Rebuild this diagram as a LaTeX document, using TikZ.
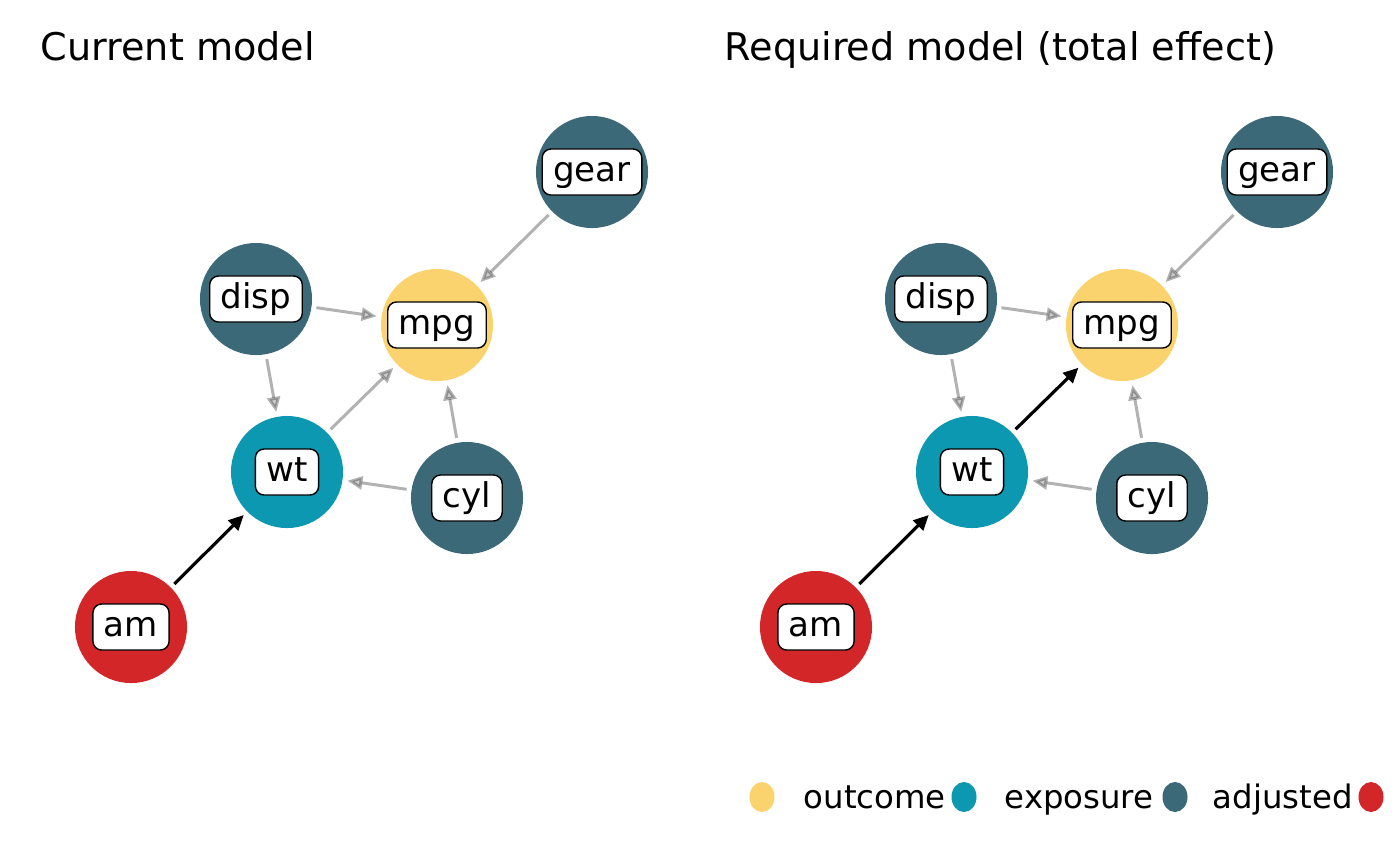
\documentclass[tikz,border=0pt]{standalone}
\usepackage{fontspec}
\setmainfont{DejaVu Sans}
\usetikzlibrary{arrows.meta,shapes.geometric}

\definecolor{outcomecol}{HTML}{FAD36E}
\definecolor{exposurecol}{HTML}{0B98B0}
\definecolor{adjustedcol}{HTML}{3B6977}
\definecolor{amcol}{HTML}{D32628}

\tikzset{
    var/.style={circle, minimum size=1.12cm, inner sep=0pt, outer sep=0pt},
    outcome/.style={var, fill=outcomecol},
    exposure/.style={var, fill=exposurecol},
    adjusted/.style={var, fill=adjustedcol},
    amnode/.style={var, fill=amcol},
    lbl/.style={draw=black, fill=white, line width=0.4pt, rounded corners=2.5pt,
        inner xsep=0.11cm, inner ysep=0.055cm, font=\fontsize{9.7pt}{11pt}\selectfont,
        text height=0.27cm, text depth=0.08cm},
    edgegray/.style={draw=black, draw opacity=0.3, line width=0.85pt,
        -{Triangle[length=0.15cm, width=0.13cm, fill=black!20]},
        shorten <=0.05cm, shorten >=0.05cm},
    edgeblack/.style={draw=black, line width=0.9pt,
        -{Triangle[length=0.15cm, width=0.14cm]},
        shorten <=0.05cm, shorten >=0.05cm},
    title/.style={anchor=base west, inner sep=0pt, font=\fontsize{10.85pt}{13pt}\selectfont},
    legtext/.style={anchor=base west, inner sep=0pt, font=\fontsize{9.2pt}{11pt}\selectfont},
    legdot/.style={ellipse, minimum width=0.25cm, minimum height=0.3cm, inner sep=0pt}
}

\begin{document}
\begin{tikzpicture}[x=0.01cm, y=-0.01cm]
    \useasboundingbox (0, 0) rectangle (1400, 866);

    % left panel
    \node[title] (Ltitle) at (40, 60) {Current model};

    \node[adjusted] (Lgear) at (592, 172) {};
    \node[adjusted] (Ldisp) at (256, 299) {};
    \node[outcome] (Lmpg) at (437, 325) {};
    \node[exposure] (Lwt) at (287, 472) {};
    \node[adjusted] (Lcyl) at (467, 498) {};
    \node[amnode] (Lam) at (131, 627) {};

    \draw[edgegray] (Lgear) -- (Lmpg);
    \draw[edgegray] (Ldisp) -- (Lmpg);
    \draw[edgegray] (Ldisp) -- (Lwt);
    \draw[edgegray] (Lwt) -- (Lmpg);
    \draw[edgegray] (Lcyl) -- (Lmpg);
    \draw[edgegray] (Lcyl) -- (Lwt);
    \draw[edgeblack] (Lam) -- (Lwt);

    \node[lbl] (Lgeart) at (Lgear) {gear};
    \node[lbl] (Ldispt) at (Ldisp) {disp};
    \node[lbl] (Lmpgt) at (Lmpg) {mpg};
    \node[lbl] (Lwtt) at (Lwt) {wt};
    \node[lbl] (Lcylt) at (Lcyl) {cyl};
    \node[lbl] (Lamt) at (Lam) {am};

    % right panel
    \node[title] (Rtitle) at (724, 60) {Required model (total effect)};

    \node[adjusted] (Rgear) at (1277, 172) {};
    \node[adjusted] (Rdisp) at (941, 299) {};
    \node[outcome] (Rmpg) at (1122, 325) {};
    \node[exposure] (Rwt) at (972, 472) {};
    \node[adjusted] (Rcyl) at (1152, 498) {};
    \node[amnode] (Ram) at (816, 627) {};

    \draw[edgegray] (Rgear) -- (Rmpg);
    \draw[edgegray] (Rdisp) -- (Rmpg);
    \draw[edgegray] (Rdisp) -- (Rwt);
    \draw[edgegray] (Rcyl) -- (Rmpg);
    \draw[edgegray] (Rcyl) -- (Rwt);
    \draw[edgeblack] (Rwt) -- (Rmpg);
    \draw[edgeblack] (Ram) -- (Rwt);

    \node[lbl] (Rgeart) at (Rgear) {gear};
    \node[lbl] (Rdispt) at (Rdisp) {disp};
    \node[lbl] (Rmpgt) at (Rmpg) {mpg};
    \node[lbl] (Rwtt) at (Rwt) {wt};
    \node[lbl] (Rcylt) at (Rcyl) {cyl};
    \node[lbl] (Ramt) at (Ram) {am};

    % legend
    \node[legdot, fill=outcomecol] (dot1) at (762, 797) {};
    \node[legtext] (leg1) at (803, 808) {outcome};
    \node[legdot, fill=exposurecol] (dot2) at (964, 797) {};
    \node[legtext] (leg2) at (1004, 808) {exposure};
    \node[legdot, fill=adjustedcol] (dot3) at (1175, 797) {};
    \node[legtext] (leg3) at (1212, 808) {adjusted};
    \node[legdot, fill=amcol] (dot4) at (1371, 797) {};
\end{tikzpicture}
\end{document}
